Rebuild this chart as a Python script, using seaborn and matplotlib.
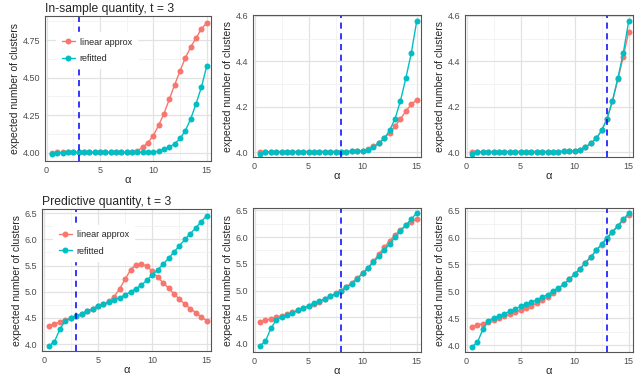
import numpy as np
import pandas as pd
import matplotlib
matplotlib.use("Agg")
import matplotlib.pyplot as plt
from matplotlib.ticker import MultipleLocator, FormatStrFormatter
import seaborn as sns

# alpha grid shared by all panels
alpha = [0.5, 1.0, 1.5, 2.0, 2.5, 3.0, 3.5, 4.0, 4.5, 5.0, 5.5, 6.0, 6.5, 7.0, 7.5,
         8.0, 8.5, 9.0, 9.5, 10.0, 10.5, 11.0, 11.5, 12.0, 12.5, 13.0, 13.5, 14.0, 14.5, 15.0]

# in-sample quantity
ins_refit = [3.993, 4.0, 4.001, 4.002, 4.002, 4.002, 4.002, 4.002, 4.002, 4.002, 4.002, 4.002,
             4.002, 4.002, 4.002, 4.002, 4.002, 4.003, 4.004, 4.005, 4.01, 4.022, 4.038, 4.06,
             4.095, 4.147, 4.226, 4.326, 4.436, 4.576]
ins_lin_t3 = [4.001, 4.002, 4.002, 4.002, 4.002, 4.002, 4.002, 4.002, 4.002, 4.002, 4.002, 4.002,
              4.002, 4.002, 4.002, 4.003, 4.012, 4.036, 4.067, 4.114, 4.183, 4.261, 4.357, 4.453,
              4.545, 4.632, 4.703, 4.763, 4.824, 4.864]
ins_lin_t8 = [4.001, 4.002, 4.002, 4.002, 4.002, 4.002, 4.002, 4.002, 4.002, 4.002, 4.002, 4.002,
              4.002, 4.002, 4.002, 4.002, 4.002, 4.003, 4.004, 4.006, 4.012, 4.025, 4.04, 4.062,
              4.085, 4.113, 4.146, 4.18, 4.21, 4.23]
ins_lin_t13 = [4.001, 4.002, 4.002, 4.002, 4.002, 4.002, 4.002, 4.002, 4.002, 4.002, 4.002, 4.002,
               4.002, 4.002, 4.002, 4.002, 4.002, 4.003, 4.004, 4.005, 4.01, 4.022, 4.038, 4.06,
               4.095, 4.147, 4.225, 4.32, 4.42, 4.53]

# predictive quantity
pred_refit = [3.97, 4.05, 4.29, 4.45, 4.5, 4.54, 4.58, 4.63, 4.67, 4.72, 4.76, 4.8, 4.84, 4.89,
              4.94, 5.0, 5.06, 5.13, 5.22, 5.32, 5.42, 5.53, 5.64, 5.76, 5.88, 6.0, 6.11, 6.22,
              6.34, 6.45]
pred_lin_t3 = [4.35, 4.39, 4.42, 4.46, 4.5, 4.54, 4.58, 4.63, 4.68, 4.72, 4.76, 4.82, 4.91, 5.06,
               5.24, 5.42, 5.52, 5.53, 5.49, 5.39, 5.28, 5.17, 5.07, 4.96, 4.86, 4.76, 4.68, 4.6,
               4.52, 4.45]
pred_lin_t8 = [4.41, 4.44, 4.47, 4.5, 4.53, 4.56, 4.59, 4.63, 4.67, 4.71, 4.75, 4.79, 4.84, 4.89,
               4.95, 5.0, 5.07, 5.15, 5.23, 5.33, 5.43, 5.55, 5.68, 5.81, 5.93, 6.04, 6.14, 6.22,
               6.29, 6.33]
pred_lin_t13 = [4.33, 4.37, 4.4, 4.43, 4.47, 4.5, 4.54, 4.57, 4.61, 4.65, 4.69, 4.73, 4.78, 4.83,
                4.89, 4.96, 5.05, 5.13, 5.22, 5.32, 5.42, 5.53, 5.64, 5.76, 5.87, 5.98, 6.1, 6.21,
                6.32, 6.42]

t_values = [3, 8, 13]
methods = ["linear approx", "refitted"]
palette = {"linear approx": "#F8766D", "refitted": "#00BFC4"}

sns.set_theme(style="whitegrid")
plt.rcParams["font.family"] = ["Liberation Sans", "DejaVu Sans"]

W, H = 640, 391
fig = plt.figure(figsize=(6.4, 3.91), dpi=100)

# panel boxes in pixels: left, right, top, bottom
boxes = [
    [(45, 211, 16, 161), (253, 421, 15, 157), (465, 633, 15, 157)],
    [(42, 211, 209, 351), (253, 421, 208, 352), (465, 633, 208, 352)],
]
ylims = [
    [(3.945, 4.91), (3.978, 4.604), (3.978, 4.604)],
    [(3.87, 6.58), (3.85, 6.545), (3.87, 6.55)],
]
linear = [[ins_lin_t3, ins_lin_t8, ins_lin_t13], [pred_lin_t3, pred_lin_t8, pred_lin_t13]]
refit = [ins_refit, pred_refit]
titles = ["In-sample quantity, t = 3", "Predictive quantity, t = 3"]

for r in range(2):
    for c in range(3):
        l, rr, t, b = boxes[r][c]
        ax = fig.add_axes([l / W, 1 - b / H, (rr - l) / W, (b - t) / H])
        df = pd.DataFrame({
            "alpha": alpha * 2,
            "value": linear[r][c] + refit[r],
            "method": ["linear approx"] * len(alpha) + ["refitted"] * len(alpha),
        })
        sns.lineplot(data=df, x="alpha", y="value", hue="method", hue_order=methods,
                     palette=palette, marker="o", markersize=4.3, markeredgewidth=0,
                     linewidth=1, ax=ax, legend=(c == 0))
        ax.axvline(t_values[c], color="#0000FF", linestyle=(0, (4, 3)), linewidth=1.1)
        ax.set_xlim(-0.15, 15.4)
        ax.set_ylim(*ylims[r][c])
        ax.xaxis.set_major_locator(MultipleLocator(5))
        ax.xaxis.set_minor_locator(MultipleLocator(2.5))
        if r == 0 and c == 0:
            ax.yaxis.set_major_locator(MultipleLocator(0.25))
            ax.yaxis.set_minor_locator(MultipleLocator(0.125))
            ax.yaxis.set_major_formatter(FormatStrFormatter("%.2f"))
        elif r == 0:
            ax.yaxis.set_major_locator(MultipleLocator(0.2))
            ax.yaxis.set_minor_locator(MultipleLocator(0.1))
            ax.yaxis.set_major_formatter(FormatStrFormatter("%.1f"))
        else:
            ax.yaxis.set_major_locator(MultipleLocator(0.5))
            ax.yaxis.set_minor_locator(MultipleLocator(0.25))
            ax.yaxis.set_major_formatter(FormatStrFormatter("%.1f"))
        ax.grid(which="major", color="#E2E2E2", linewidth=0.9)
        ax.grid(which="minor", color="#EFEFEF", linewidth=0.5)
        ax.set_axisbelow(True)
        for s in ax.spines.values():
            s.set_color("#555555")
            s.set_linewidth(0.8)
        ax.tick_params(which="major", length=2.5, width=0.6, color="#333333",
                       labelsize=6.5, labelcolor="#4D4D4D", pad=1)
        ax.tick_params(which="minor", length=0)
        ax.set_xlabel("α", fontsize=8, labelpad=0)
        ax.set_ylabel("expected number of clusters", fontsize=7.5, labelpad=2)
        if c == 0:
            ax.set_title(titles[r], fontsize=8.7, loc="left", pad=3)
            leg = ax.legend(title=None, loc="upper left", bbox_to_anchor=(0.04, 0.92),
                            fontsize=6.5, frameon=True, facecolor="white", edgecolor="white",
                            framealpha=1, handlelength=1.5, handletextpad=0.5,
                            labelspacing=0.8, borderpad=0.6)

fig.savefig("out.png", dpi=100)
